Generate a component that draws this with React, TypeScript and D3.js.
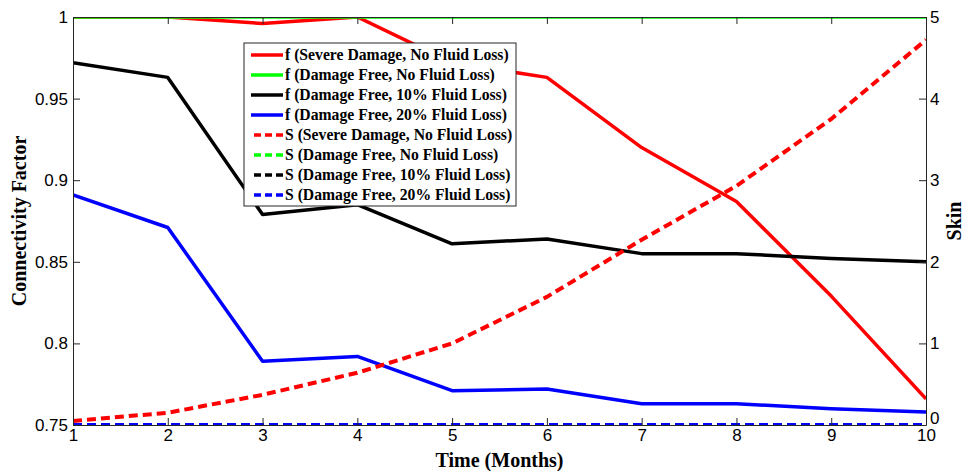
import React, { useEffect, useRef } from "react";
import * as d3 from "d3";

const months = [1, 2, 3, 4, 5, 6, 7, 8, 9, 10];

const fSevereNoLoss = [1, 1, 0.996, 1, 0.972, 0.963, 0.92, 0.887, 0.829, 0.766];
const fFreeNoLoss = [1, 1, 1, 1, 1, 1, 1, 1, 1, 1];
const fFree10Loss = [0.972, 0.963, 0.879, 0.885, 0.861, 0.864, 0.855, 0.855, 0.852, 0.85];
const fFree20Loss = [0.891, 0.871, 0.789, 0.792, 0.771, 0.772, 0.763, 0.763, 0.76, 0.758];

const sSevereNoLoss = [0.05, 0.15, 0.37, 0.64, 1.0, 1.57, 2.27, 2.93, 3.75, 4.72];
const sFreeNoLoss = [0, 0, 0, 0, 0, 0, 0, 0, 0, 0];
const sFree10Loss = [0, 0, 0, 0, 0, 0, 0, 0, 0, 0];
const sFree20Loss = [0, 0, 0, 0, 0, 0, 0, 0, 0, 0];

const leftTicks = [0.75, 0.8, 0.85, 0.9, 0.95, 1];
const rightTicks = [0, 1, 2, 3, 4, 5];

interface Series {
  label: string;
  values: number[];
  color: string;
  axis: "f" | "s";
}

const series: Series[] = [
  { label: "f (Severe Damage, No Fluid Loss)", values: fSevereNoLoss, color: "#ff0000", axis: "f" },
  { label: "f (Damage Free, No Fluid Loss)", values: fFreeNoLoss, color: "#00ff00", axis: "f" },
  { label: "f (Damage Free, 10% Fluid Loss)", values: fFree10Loss, color: "#000000", axis: "f" },
  { label: "f (Damage Free, 20% Fluid Loss)", values: fFree20Loss, color: "#0000ff", axis: "f" },
  { label: "S (Severe Damage, No Fluid Loss)", values: sSevereNoLoss, color: "#ff0000", axis: "s" },
  { label: "S (Damage Free, No Fluid Loss)", values: sFreeNoLoss, color: "#00ff00", axis: "s" },
  { label: "S (Damage Free, 10% Fluid Loss)", values: sFree10Loss, color: "#000000", axis: "s" },
  { label: "S (Damage Free, 20% Fluid Loss)", values: sFree20Loss, color: "#0000ff", axis: "s" },
];

const App: React.FC = () => {
  const svgRef = useRef<SVGSVGElement>(null);
  const width = 971;
  const height = 471;

  useEffect(() => {
    if (!svgRef.current) return;
    const svg = d3.select(svgRef.current);
    svg.selectAll("*").remove();

    const margin = { top: 17, right: 45, bottom: 46, left: 73 };
    const innerWidth = width - margin.left - margin.right;
    const innerHeight = height - margin.top - margin.bottom;

    const x = d3.scaleLinear().domain([1, 10]).range([0, innerWidth]);
    const yF = d3.scaleLinear().domain([0.75, 1]).range([innerHeight, 0]);
    const yS = d3.scaleLinear().domain([0, 5]).range([innerHeight, 0]);

    svg.append("rect").attr("width", width).attr("height", height).attr("fill", "#ffffff");

    svg.append("defs")
      .append("clipPath")
      .attr("id", "plot-clip")
      .append("rect")
      .attr("width", innerWidth)
      .attr("height", innerHeight);

    const g = svg.append("g").attr("transform", `translate(${margin.left},${margin.top})`);

    const axisFont = "'Liberation Sans', Arial, sans-serif";
    const titleFont = "'Liberation Serif', 'Times New Roman', serif";

    const styleAxis = (sel: d3.Selection<SVGGElement, unknown, null, undefined>) => {
      sel.selectAll("path, line").attr("stroke", "#262626").attr("stroke-width", 1);
      sel.selectAll("text")
        .attr("fill", "#000")
        .style("font-family", axisFont)
        .style("font-size", "17px");
    };

    // lines
    const lines = g.append("g").attr("clip-path", "url(#plot-clip)");
    series.forEach((s) => {
      const yScale = s.axis === "f" ? yF : yS;
      const line = d3.line<number>()
        .x((_, i) => x(months[i]))
        .y((d) => yScale(d));
      lines.append("path")
        .datum(s.values)
        .attr("fill", "none")
        .attr("stroke", s.color)
        .attr("stroke-width", s.axis === "f" ? 3.5 : 4)
        .attr("stroke-linejoin", "round")
        .attr("stroke-dasharray", s.axis === "s" ? "9,5" : null)
        .attr("d", line);
    });

    // axes
    const xAxis = g.append("g")
      .attr("transform", `translate(0,${innerHeight})`)
      .call(d3.axisBottom(x).tickValues(months).tickFormat(d3.format("d")).tickSizeInner(-7).tickSizeOuter(0).tickPadding(4));
    styleAxis(xAxis);

    const topAxis = g.append("g")
      .call(d3.axisTop(x).tickValues(months).tickFormat(() => "").tickSizeInner(-7).tickSizeOuter(0));
    styleAxis(topAxis);

    const yAxisL = g.append("g")
      .call(d3.axisLeft(yF).tickValues(leftTicks).tickFormat((d) => d3.format("")(+d)).tickSizeInner(-7).tickSizeOuter(0).tickPadding(5));
    styleAxis(yAxisL);

    const yAxisR = g.append("g")
      .attr("transform", `translate(${innerWidth},0)`)
      .call(d3.axisRight(yS).tickValues(rightTicks).tickFormat(d3.format("d")).tickSizeInner(-7).tickSizeOuter(0).tickPadding(4));
    styleAxis(yAxisR);
    // the "0" sits just above the x label "10", as in the original
    yAxisR.selectAll<SVGTextElement, number>("text")
      .filter((d) => d === 0)
      .attr("y", -7);

    // axis titles
    svg.append("text")
      .attr("x", margin.left + innerWidth / 2)
      .attr("y", 467)
      .attr("text-anchor", "middle")
      .style("font-family", titleFont)
      .style("font-weight", "bold")
      .style("font-size", "20px")
      .text("Time (Months)");

    svg.append("text")
      .attr("transform", `translate(26,${margin.top + innerHeight / 2}) rotate(-90)`)
      .attr("text-anchor", "middle")
      .style("font-family", titleFont)
      .style("font-weight", "bold")
      .style("font-size", "20px")
      .text("Connectivity Factor");

    svg.append("text")
      .attr("transform", `translate(961,${margin.top + innerHeight / 2}) rotate(-90)`)
      .attr("text-anchor", "middle")
      .style("font-family", titleFont)
      .style("font-weight", "bold")
      .style("font-size", "20px")
      .text("Skin");

    // legend
    const legend = svg.append("g").attr("transform", "translate(244,43)");
    legend.append("rect")
      .attr("width", 272)
      .attr("height", 163)
      .attr("fill", "#ffffff")
      .attr("stroke", "#262626")
      .attr("stroke-width", 1);

    series.forEach((s, i) => {
      const rowY = 12 + i * 20;
      legend.append("line")
        .attr("x1", s.axis === "s" ? 10 : 7)
        .attr("x2", 39)
        .attr("y1", rowY)
        .attr("y2", rowY)
        .attr("stroke", s.color)
        .attr("stroke-width", 3.5)
        .attr("stroke-dasharray", s.axis === "s" ? "7,4" : null);
      legend.append("text")
        .attr("x", 41)
        .attr("y", rowY)
        .attr("dy", "0.35em")
        .style("font-family", titleFont)
        .style("font-weight", "bold")
        .style("font-size", "15.7px")
        .attr("fill", "#000")
        .text(s.label);
    });
  }, []);

  return (
    <div style={{ position: "fixed", left: 0, top: 0 }}>
      <svg ref={svgRef} width={width} height={height} style={{ display: "block" }} />
    </div>
  );
};

export default App;
